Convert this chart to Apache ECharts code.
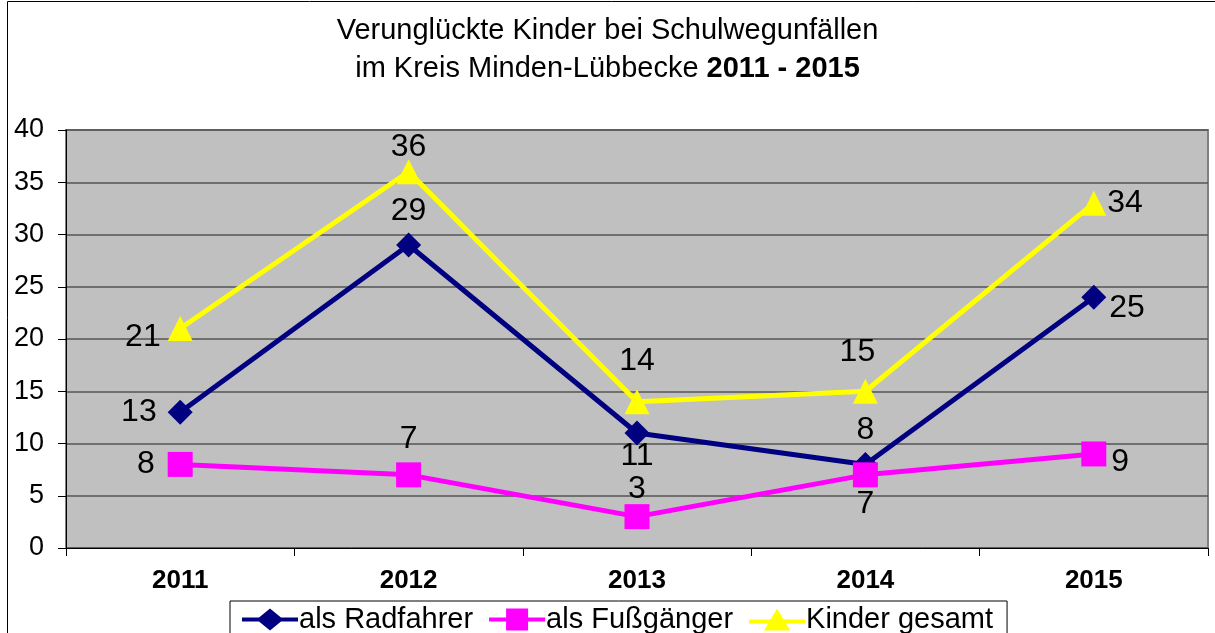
<!DOCTYPE html>
<html>
<head>
<meta charset="utf-8">
<script src="https://cdn.jsdelivr.net/npm/echarts@6/dist/echarts.min.js"></script>
<style>
  html, body { margin: 0; padding: 0; background: #fff; }
  #chart { width: 1215px; height: 633px; }
</style>
</head>
<body>
<div id="chart"></div>
<script>
const years = ['2011', '2012', '2013', '2014', '2015'];
const radfahrer = [13, 29, 11, 8, 24];
const fussgaenger = [8, 7, 3, 7, 9];
const gesamt = [21, 36, 14, 15, 33];
// printed labels as shown in the picture
const radfahrerLabels = ['13', '29', '11', '8', '25'];
const fussgaengerLabels = ['8', '7', '3', '7', '9'];
const gesamtLabels = ['21', '36', '14', '15', '34'];

const chart = echarts.init(document.getElementById('chart'));

// label placement per point: [position, dx, dy]
function points(values, labels, place) {
  return values.map((v, i) => ({
    value: v,
    label: { formatter: labels[i], position: place[i][0], offset: [place[i][1], place[i][2]] }
  }));
}

const font = 'Liberation Sans, Arial, sans-serif';
const labelStyle = { show: true, fontFamily: font, fontSize: 32, color: '#000', distance: 8 };

// legend icons: thick line with the marker in the middle
const iconDiamond = 'path://M0,9 L17,9 L28,0 L39,9 L56,9 L56,13 L39,13 L28,22 L17,13 L0,13 Z';
const iconSquare = 'path://M0,9 L17,9 L17,0 L39,0 L39,9 L56,9 L56,13 L39,13 L39,22 L17,22 L17,13 L0,13 Z';
const iconTriangle = 'path://M0,11 L21.5,11 L28,0 L34.5,11 L56,11 L56,15 L36.9,15 L41,22 L15,22 L19.1,15 L0,15 Z';

chart.setOption({
  animation: false,
  title: {
    text: 'Verunglückte Kinder bei Schulwegunfällen\nim Kreis Minden-Lübbecke {b|2011 - 2015}',
    left: 'center',
    top: 7,
    textStyle: {
      fontFamily: font,
      fontSize: 29,
      fontWeight: 'normal',
      color: '#000',
      lineHeight: 38,
      rich: { b: { fontFamily: font, fontSize: 29, fontWeight: 'bold', color: '#000', lineHeight: 38 } }
    }
  },
  graphic: [{
    type: 'rect',
    shape: { x: 7.5, y: 1.5, width: 1220, height: 640 },
    style: { fill: 'none', stroke: '#000', lineWidth: 1 },
    silent: true
  }],
  grid: {
    left: 66, right: 7, top: 130, bottom: 85,
    show: true,
    backgroundColor: '#c0c0c0',
    borderColor: '#808080',
    borderWidth: 2
  },
  legend: {
    top: 601,
    left: 230,
    padding: [4, 14, 12, 12],
    borderColor: '#000',
    borderWidth: 1,
    itemGap: 16,
    itemWidth: 56,
    itemHeight: 22,
    textStyle: { fontFamily: font, fontSize: 29, color: '#000', padding: [0, 0, 0, -4] },
    data: [
      { name: 'als Radfahrer', icon: iconDiamond },
      { name: 'als Fußgänger', icon: iconSquare },
      { name: 'Kinder gesamt', icon: iconTriangle }
    ]
  },
  xAxis: {
    type: 'category',
    data: years,
    boundaryGap: true,
    axisLine: { lineStyle: { color: '#000', width: 1 } },
    axisTick: { show: true, length: 8, lineStyle: { color: '#000' } },
    axisLabel: { fontFamily: font, fontSize: 26, fontWeight: 'bold', color: '#000', margin: 20 }
  },
  yAxis: {
    type: 'value',
    min: 0, max: 40, interval: 5,
    axisLine: { show: true, lineStyle: { color: '#000', width: 1 } },
    axisTick: { show: true, length: 8, lineStyle: { color: '#000' } },
    axisLabel: { fontFamily: font, fontSize: 27, color: '#000', margin: 22 },
    splitLine: { lineStyle: { color: '#555', width: 1.5 } }
  },
  series: [
    {
      name: 'als Radfahrer',
      type: 'line',
      data: points(radfahrer, radfahrerLabels, [
        ['left', -3, 0], ['top', 0, 3], ['bottom', 0, -13], ['top', 0, 2], ['right', -5, 11]
      ]),
      symbol: 'diamond',
      symbolSize: 25,
      color: '#000080',
      lineStyle: { width: 5, color: '#000080' },
      itemStyle: { color: '#000080' },
      label: labelStyle,
      z: 3
    },
    {
      name: 'als Fußgänger',
      type: 'line',
      data: points(fussgaenger, fussgaengerLabels, [
        ['left', -5, 0], ['top', 0, 1], ['top', 0, 9], ['bottom', 0, -7], ['right', -3, 8]
      ]),
      symbol: 'rect',
      symbolSize: 25,
      color: '#ff00ff',
      lineStyle: { width: 5, color: '#ff00ff' },
      itemStyle: { color: '#ff00ff' },
      label: labelStyle,
      z: 4
    },
    {
      name: 'Kinder gesamt',
      type: 'line',
      data: points(gesamt, gesamtLabels, [
        ['left', 1, 9], ['top', 0, 12], ['top', 0, -4], ['top', -8, -3], ['right', -7, 0]
      ]),
      symbol: 'triangle',
      symbolSize: 25,
      color: '#ffff00',
      lineStyle: { width: 5, color: '#ffff00' },
      itemStyle: { color: '#ffff00' },
      label: labelStyle,
      z: 2
    }
  ]
});
</script>
</body>
</html>
